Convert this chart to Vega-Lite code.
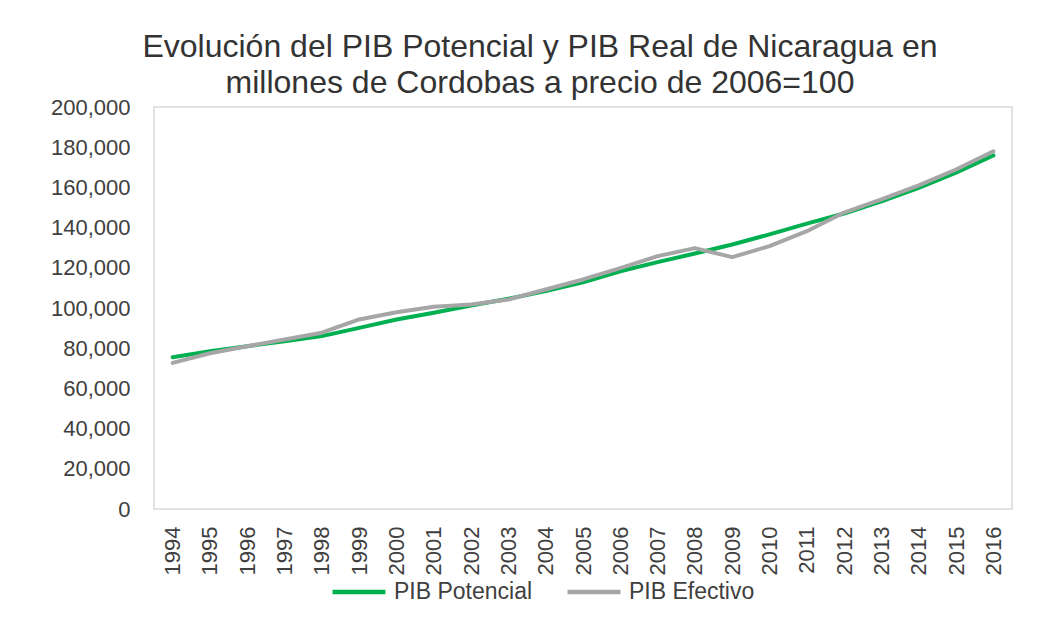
{
  "$schema": "https://vega.github.io/schema/vega-lite/v6.json",
  "width": 858,
  "height": 402,
  "autosize": {"type": "none"},
  "padding": {"left": 154, "top": 107, "right": 48, "bottom": 115},
  "background": "white",
  "title": {
    "text": ["Evolución del PIB Potencial y PIB Real de Nicaragua en", "millones de Cordobas a precio de 2006=100"],
    "font": "Liberation Sans",
    "fontSize": 32,
    "fontWeight": "normal",
    "color": "#333333",
    "anchor": "middle",
    "frame": "group",
    "dx": -43,
    "offset": -4,
    "lineHeight": 36
  },
  "data": {
    "values": [
      {"year": "1994", "potencial": 75500, "efectivo": 72700},
      {"year": "1995", "potencial": 78500, "efectivo": 77500},
      {"year": "1996", "potencial": 81000, "efectivo": 81000},
      {"year": "1997", "potencial": 83500, "efectivo": 84300},
      {"year": "1998", "potencial": 86000, "efectivo": 87700},
      {"year": "1999", "potencial": 90100, "efectivo": 94300},
      {"year": "2000", "potencial": 94300, "efectivo": 97900},
      {"year": "2001", "potencial": 97600, "efectivo": 100600},
      {"year": "2002", "potencial": 101200, "efectivo": 101700},
      {"year": "2003", "potencial": 104600, "efectivo": 104200},
      {"year": "2004", "potencial": 108400, "efectivo": 109200},
      {"year": "2005", "potencial": 112800, "efectivo": 114200},
      {"year": "2006", "potencial": 118300, "efectivo": 119800},
      {"year": "2007", "potencial": 122800, "efectivo": 125800},
      {"year": "2008", "potencial": 127100, "efectivo": 129800},
      {"year": "2009", "potencial": 131600, "efectivo": 125300},
      {"year": "2010", "potencial": 136600, "efectivo": 130800},
      {"year": "2011", "potencial": 142000, "efectivo": 138200},
      {"year": "2012", "potencial": 147000, "efectivo": 147500},
      {"year": "2013", "potencial": 153100, "efectivo": 154000},
      {"year": "2014", "potencial": 159800, "efectivo": 161000},
      {"year": "2015", "potencial": 167300, "efectivo": 168900},
      {"year": "2016", "potencial": 175900, "efectivo": 178000}
    ]
  },
  "encoding": {
    "x": {
      "field": "year",
      "type": "ordinal",
      "scale": {"type": "point", "padding": 0.5},
      "axis": {
        "title": null,
        "labelAngle": 270,
        "labelFont": "Liberation Sans",
        "labelFontSize": 22,
        "labelColor": "#404040",
        "labelPadding": 17,
        "ticks": false,
        "domain": false,
        "grid": false
      }
    }
  },
  "layer": [
    {
      "mark": {"type": "line", "strokeWidth": 4, "strokeCap": "round", "strokeJoin": "round"},
      "encoding": {
        "y": {
          "field": "potencial",
          "type": "quantitative",
          "scale": {"domain": [0, 200000]},
          "axis": {
            "title": null,
            "format": ",d",
            "values": [0, 20000, 40000, 60000, 80000, 100000, 120000, 140000, 160000, 180000, 200000],
            "labelFont": "Liberation Sans",
            "labelFontSize": 22,
            "labelColor": "#404040",
            "labelPadding": 24,
            "ticks": false,
            "domain": false,
            "grid": false
          }
        },
        "color": {"datum": "PIB Potencial"}
      }
    },
    {
      "mark": {"type": "line", "strokeWidth": 4, "strokeCap": "round", "strokeJoin": "round"},
      "encoding": {
        "y": {"field": "efectivo", "type": "quantitative"},
        "color": {"datum": "PIB Efectivo"}
      }
    }
  ],
  "resolve": {"scale": {"y": "shared"}},
  "config": {
    "view": {"stroke": "#d9d9d9", "strokeWidth": 1.5},
    "range": {"category": ["#00b050", "#a6a6a6"]},
    "legend": {
      "orient": "none",
      "legendX": 176,
      "legendY": 456,
      "direction": "horizontal",
      "title": null,
      "padding": 0,
      "symbolType": "stroke",
      "symbolSize": 2800,
      "symbolStrokeWidth": 4.5,
      "labelFont": "Liberation Sans",
      "labelFontSize": 23,
      "labelColor": "#404040",
      "labelOffset": 6,
      "columnPadding": 25
    },
    "font": "Liberation Sans"
  }
}
